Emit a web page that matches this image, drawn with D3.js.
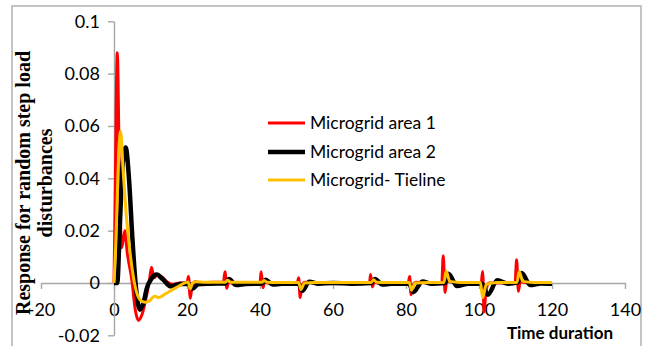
<!DOCTYPE html>
<html>
<head>
<meta charset="utf-8">
<script src="https://cdn.jsdelivr.net/npm/d3@7"></script>
<style>
  body { margin: 0; background: #fff; }
  svg { display: block; }
</style>
</head>
<body>
<svg width="649" height="346"></svg>
<script>
// tick values for both axes
const xTicks = [-20, 0, 20, 40, 60, 80, 100, 120, 140];
const yTicks = [-0.02, 0, 0.02, 0.04, 0.06, 0.08, 0.1];

// series names (legend)
const seriesNames = ['Microgrid area 1', 'Microgrid area 2', 'Microgrid- Tieline'];

// Microgrid area 1 (red)
const area1T = [0, 0.3, 0.9, 1.5, 2.1, 2.6, 3.0, 3.6, 4.9, 5.8, 6.7, 7.7, 8.9, 9.7, 10.3, 10.9, 11.8, 13, 14.5, 16, 18,
  20.0, 20.4, 20.9, 21.4, 22.2, 24, 27, 30.0, 30.4, 30.9, 31.4, 32.2, 35, 40.0, 40.3, 40.8, 41.3, 42.1, 45,
  50.2, 50.6, 51.0, 51.5, 52.3, 55, 60, 65, 70.0, 70.3, 70.8, 71.3, 72.1, 75, 80.6, 81.0, 81.4, 81.9, 82.7, 86,
  89.8, 90.2, 90.7, 91.2, 92.0, 95, 100.6, 101.0, 101.4, 101.9, 102.7, 106, 109.9, 110.3, 110.8, 111.3, 112.1, 115, 120];
const area1V = [0, 0.03, 0.088, 0.04, 0.0135, 0.017, 0.02, 0.012, 0.001, -0.01, -0.0143, -0.012, -0.005, 0.001, 0.006, 0.002, 0.003, 0.0025, 0.0005, -0.0005, 0,
  0, 0.0025, -0.0058, -0.001, 0.0005, 0, 0.0003, 0.0003, 0.0043, -0.002, 0.0005, 0, 0.0002, 0.0002, 0.0043, -0.0018, 0.0005, 0, 0.0002,
  0, 0.002, -0.0056, -0.001, 0.0003, 0, 0, 0.0002, 0.0002, 0.0032, -0.0015, 0.0005, 0, 0, 0, 0.0025, -0.0045, -0.001, 0.0003, 0,
  0, 0.0104, -0.0036, 0.001, 0.0005, 0, 0, 0.0044, -0.011, -0.003, 0, 0, 0, 0.0089, -0.0032, 0.001, 0.0003, 0, 0];

// Microgrid area 2 (black)
const area2T = [0, 0.9, 1.6, 2.4, 3.2, 4.1, 5.0, 5.9, 7.1, 8.1, 9.0, 10.2, 11.7, 13.3, 15.6, 18,
  20.5, 21.5, 23, 26, 30.5, 31.5, 33.5, 36, 40.5, 41.5, 43.5, 46, 50.5, 51.6, 53.5, 56, 60, 65,
  70.5, 71.5, 73.5, 76, 80.8, 82, 84.5, 87, 90.7, 91.6, 94, 97, 100.8, 102.4, 105, 108, 110.6, 111.7, 114, 117, 120];
const area2V = [0, 0, 0.022, 0.046, 0.0518, 0.04, 0.018, 0, -0.0102, -0.0075, -0.002, 0.0015, 0.0032, 0.0015, -0.0013, -0.0004,
  -0.0003, -0.0022, -0.0005, -0.0003, -0.0002, 0.0015, -0.0008, -0.0004, -0.0002, 0.0012, -0.0006, -0.0003, -0.0003, -0.003, 0.0005, -0.0003, 0, -0.0003,
  0, 0.0015, -0.0006, -0.0003, -0.0003, -0.0035, 0.0006, -0.0003, 0, 0.0035, -0.0012, -0.0003, -0.0003, -0.0045, 0.001, -0.0003, 0.0002, 0.0038, -0.0008, -0.0002, -0.0003];

// Microgrid- Tieline (yellow)
const tieT = [0, 0.5, 1.1, 1.8, 2.5, 3.3, 4.4, 5.6, 7.1, 8.5, 9.8, 10.6, 11.3, 12.2, 14, 16, 18,
  20.3, 20.9, 21.5, 22.5, 25, 30.5, 31.1, 32, 35, 40.5, 41.1, 42, 45, 50.6, 51.2, 52.2, 55, 60, 65,
  70.5, 71.1, 72, 75, 80.9, 81.5, 82.5, 86, 90.4, 91.0, 92, 95, 100.4, 101.0, 102, 105, 110.4, 111.0, 112, 115, 120];
const tieV = [0, 0.015, 0.042, 0.058, 0.043, 0.027, 0.0116, 0, -0.0064, -0.0074, -0.0068, -0.0055, -0.0051, -0.0056, -0.0042, -0.0026, -0.001,
  0.0004, -0.0022, 0, 0.0005, 0.0003, 0.0003, 0.001, 0.0003, 0.0003, 0.0003, 0.0009, 0.0003, 0.0002, 0.0002, -0.0025, 0, 0.0002, 0.0002, 0.0002,
  0.0002, 0.0012, 0.0003, 0.0002, 0.0002, -0.0028, 0, 0.0002, 0.0002, 0.0045, 0.0006, 0.0002, 0.0002, -0.0056, -0.0005, 0.0002, 0.0002, 0.0044, 0.0006, 0.0002, 0.0002];

const svg = d3.select('svg');
const axisColor = '#a6a6a6';

// outer chart frame
svg.append('rect')
  .attr('x', 12).attr('y', 6)
  .attr('width', 629).attr('height', 400)
  .attr('fill', 'none')
  .attr('stroke', '#b0b0b0')
  .attr('stroke-width', 1.5);

const xScale = d3.scaleLinear().domain([-20, 140]).range([41, 625]);
const yScale = d3.scaleLinear().domain([-0.02, 0.1]).range([335.3, 21.3]);

// plain hyphen for negatives, like the original
const fmt = d => String(+d.toFixed(2));

// x axis sits on y = 0
const xAxis = d3.axisBottom(xScale)
  .tickValues(xTicks)
  .tickSizeInner(6).tickSizeOuter(0)
  .tickPadding(14)
  .tickFormat(fmt);

const gx = svg.append('g')
  .attr('transform', 'translate(0,' + yScale(0) + ')')
  .call(xAxis);

const yAxis = d3.axisLeft(yScale)
  .tickValues(yTicks)
  .tickSizeInner(6).tickSizeOuter(0)
  .tickPadding(8)
  .tickFormat(fmt);

const gy = svg.append('g')
  .attr('transform', 'translate(' + xScale(0) + ',0)')
  .call(yAxis);

[gx, gy].forEach(g => {
  g.selectAll('path, line').attr('stroke', axisColor).attr('stroke-width', 1.4);
  g.selectAll('text')
    .attr('fill', '#000')
    .style('font-family', 'Lato, "Open Sans", sans-serif')
    .style('font-size', '18px');
});

// lines
const series = [
  { t: area1T, v: area1V, color: '#ff0000', width: 3 },
  { t: area2T, v: area2V, color: '#000000', width: 4.5 },
  { t: tieT, v: tieV, color: '#ffc000', width: 3 }
];

const line = d3.line()
  .x(d => xScale(d[0]))
  .y(d => yScale(d[1]))
  .curve(d3.curveMonotoneX);

series.forEach(s => {
  svg.append('path')
    .datum(s.t.map((t, i) => [t, s.v[i]]))
    .attr('fill', 'none')
    .attr('stroke', s.color)
    .attr('stroke-width', s.width)
    .attr('stroke-linejoin', 'round')
    .attr('d', line);
});

// legend
const legendY = [123, 152, 180];
seriesNames.forEach((name, i) => {
  svg.append('line')
    .attr('x1', 268).attr('x2', 305)
    .attr('y1', legendY[i]).attr('y2', legendY[i])
    .attr('stroke', series[i].color)
    .attr('stroke-width', series[i].width);
  svg.append('text')
    .attr('x', 310).attr('y', legendY[i])
    .attr('dy', '0.35em')
    .style('font-family', 'Lato, "Open Sans", sans-serif')
    .style('font-size', '17.5px')
    .text(name);
});

// axis titles
svg.append('text')
  .attr('transform', 'translate(30,183) rotate(-90)')
  .attr('text-anchor', 'middle')
  .style('font-family', '"Liberation Serif", "Times New Roman", serif')
  .style('font-weight', 'bold')
  .style('font-size', '20px')
  .selectAll('tspan')
  .data(['Response for random step load', 'disturbances'])
  .enter()
  .append('tspan')
    .attr('x', 0)
    .attr('dy', (d, i) => i === 0 ? 0 : 22)
    .text(d => d);

svg.append('text')
  .attr('x', 560).attr('y', 339)
  .attr('text-anchor', 'middle')
  .style('font-family', 'Lato, "Open Sans", sans-serif')
  .style('font-weight', 'bold')
  .style('font-size', '17px')
  .text('Time duration');
</script>
</body>
</html>
